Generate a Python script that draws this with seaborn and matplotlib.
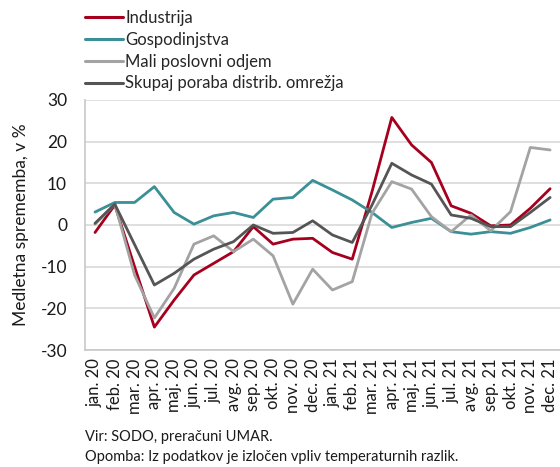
import matplotlib
matplotlib.use("Agg")
import matplotlib.pyplot as plt
import seaborn as sns
import pandas as pd
from matplotlib.lines import Line2D

months = ['jan. 20', 'feb. 20', 'mar. 20', 'apr. 20', 'maj. 20', 'jun. 20',
          'jul. 20', 'avg. 20', 'sep. 20', 'okt. 20', 'nov. 20', 'dec. 20',
          'jan. 21', 'feb. 21', 'mar. 21', 'apr. 21', 'maj. 21', 'jun. 21',
          'jul. 21', 'avg. 21', 'sep. 21', 'okt. 21', 'nov. 21', 'dec. 21']
industrija = [-1.8, 4.8, -10.0, -24.5, -18.0, -12.0, -9.2, -6.4, -0.4, -4.6, -3.4, -3.2,
              -6.6, -8.2, 8.0, 25.8, 19.2, 15.0, 4.6, 2.8, -0.2, 0.0, 4.0, 8.7]
gospodinjstva = [3.1, 5.4, 5.4, 9.2, 3.0, 0.2, 2.2, 3.0, 1.8, 6.2, 6.6, 10.7,
                 8.4, 6.0, 3.0, -0.6, 0.6, 1.6, -1.6, -2.2, -1.6, -2.0, -0.6, 1.2]
mali = [0.2, 5.0, -12.0, -22.3, -15.2, -4.6, -2.6, -6.4, -3.4, -7.4, -19.0, -10.6,
        -15.6, -13.6, 2.8, 10.4, 8.6, 2.0, -1.6, 2.4, -1.4, 3.2, 18.6, 18.0]
skupaj = [0.4, 5.0, -4.7, -14.4, -11.6, -8.2, -5.8, -4.0, 0.0, -2.0, -1.8, 1.0,
          -2.4, -4.2, 4.8, 14.8, 12.0, 9.8, 2.4, 1.6, -0.4, -0.4, 3.0, 6.6]
series_names = ['Industrija', 'Gospodinjstva', 'Mali poslovni odjem',
                'Skupaj poraba distrib. omrežja']
colors = ['#a6001e', '#3a9096', '#a3a3a3', '#555555']
yticks = [-30, -20, -10, 0, 10, 20, 30]

sns.set_theme(style='white')
plt.rcParams['font.family'] = ['Lato', 'DejaVu Sans']

rows = []
for name, vals in zip(series_names, [industrija, gospodinjstva, mali, skupaj]):
    for i, v in enumerate(vals):
        rows.append({'x': i, 'val': v, 'serija': name})
df = pd.DataFrame(rows)

fig = plt.figure(figsize=(5.6, 4.67), dpi=100)
ax = fig.add_axes([0.152, 0.2505, 0.848, 0.5355])

sns.lineplot(data=df, x='x', y='val', hue='serija', hue_order=series_names,
             palette=colors, linewidth=2.0, ax=ax, legend=False)

ax.set_xlim(-0.5, len(months) - 0.5)
ax.set_ylim(-30, 30)
ax.set_yticks(yticks)
ax.set_yticklabels([str(t) for t in yticks], fontsize=12.5, color='#1a1a1a')
ax.set_xticks(range(len(months)))
ax.set_xticklabels(months, rotation=90, fontsize=12, color='#1a1a1a')
ax.tick_params(axis='y', length=0, pad=13)
ax.tick_params(axis='x', length=0, pad=6)
ax.set_xlabel('')
ax.set_ylabel('Medletna sprememba, v %', fontsize=12.5, color='#1a1a1a', labelpad=8)
ax.grid(axis='y', color='#d9d9d9', linewidth=1.2)
ax.set_axisbelow(True)
for s in ['top', 'right']:
    ax.spines[s].set_visible(False)
ax.spines['left'].set_color('#c8c8c8')
ax.spines['bottom'].set_color('#c8c8c8')
ax.spines['left'].set_linewidth(1.2)
ax.spines['bottom'].set_linewidth(1.2)

handles = [Line2D([0], [0], color=c, linewidth=2.2) for c in colors]
fig.legend(handles, series_names, loc='upper left', bbox_to_anchor=(0.134, 1.0),
           frameon=False, fontsize=12, handlelength=2.3, handletextpad=0.12,
           labelspacing=0.35, borderaxespad=0.2)

fig.text(0.152, 1 - 437 / 467, 'Vir: SODO, preračuni UMAR.', fontsize=10.5,
         color='#1a1a1a', va='center')
fig.text(0.152, 1 - 457 / 467,
         'Opomba: Iz podatkov je izločen vpliv temperaturnih razlik.',
         fontsize=10.5, color='#1a1a1a', va='center')

fig.savefig('out.png', dpi=100)
